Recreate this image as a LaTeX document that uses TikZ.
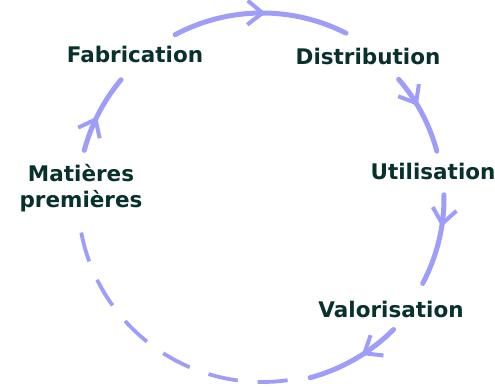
\documentclass[tikz,border=0pt]{standalone}
\usepackage{fontspec}
\setmainfont{DejaVu Sans}
\usetikzlibrary{arrows.meta,decorations.markings}
\definecolor{cyclecol}{RGB}{158,158,250}
\definecolor{labelcol}{RGB}{8,48,44}
\begin{document}
\begin{tikzpicture}[x=1pt,y=1pt,
  lbl/.style={font=\bfseries\fontsize{21.5}{26}\selectfont, text=labelcol, inner sep=0pt},
  flow/.style={draw=cyclecol, line width=5pt, line cap=round},
  back/.style={draw=cyclecol, line width=3.8pt, dash pattern=on 30pt off 20pt},
  midarrow/.style={postaction={decorate}, decoration={markings,
      mark=at position #1 with {\arrow{Straight Barb[length=15pt,width=24pt,line width=4pt]}}}},
]
\useasboundingbox (0,0) rectangle (495,388);
\coordinate (c) at (262,190);

% stage labels
\node[lbl, anchor=base] (fab) at (135,325) {Fabrication};
\node[lbl, anchor=base] (dis) at (368,323) {Distribution};
\node[lbl, align=center] (mat) at (81,200) {Matières\\premières};
\node[lbl, anchor=base] (uti) at (433,208) {Utilisation};
\node[lbl, anchor=base] (val) at (391,70) {Valorisation};

% arc end points around the cycle
\coordinate (s1) at ([shift={(118:185)}]c);
\coordinate (s2) at ([shift={(41:181)}]c);
\coordinate (s3) at ([shift={(1:182)}]c);
\coordinate (s4) at ([shift={(-45:186)}]c);
\coordinate (s5) at ([shift={(-82:184)}]c);
\coordinate (s6) at ([shift={(165:184)}]c);

% clockwise flow
\draw[flow, midarrow=0.53] (s1) arc[start angle=118, end angle=63, radius=185];
\draw[flow, midarrow=0.40] (s2) arc[start angle=41, end angle=15, radius=181];
\draw[flow, midarrow=0.35] (s3) arc[start angle=1, end angle=-28, radius=182];
\draw[flow, midarrow=0.42] (s4) arc[start angle=-45, end angle=-75, radius=186];
\draw[back] (s5) arc[start angle=-82, end angle=-170, radius=184];
\draw[flow, midarrow=0.45] (s6) arc[start angle=165, end angle=140, radius=184];
\end{tikzpicture}
\end{document}
